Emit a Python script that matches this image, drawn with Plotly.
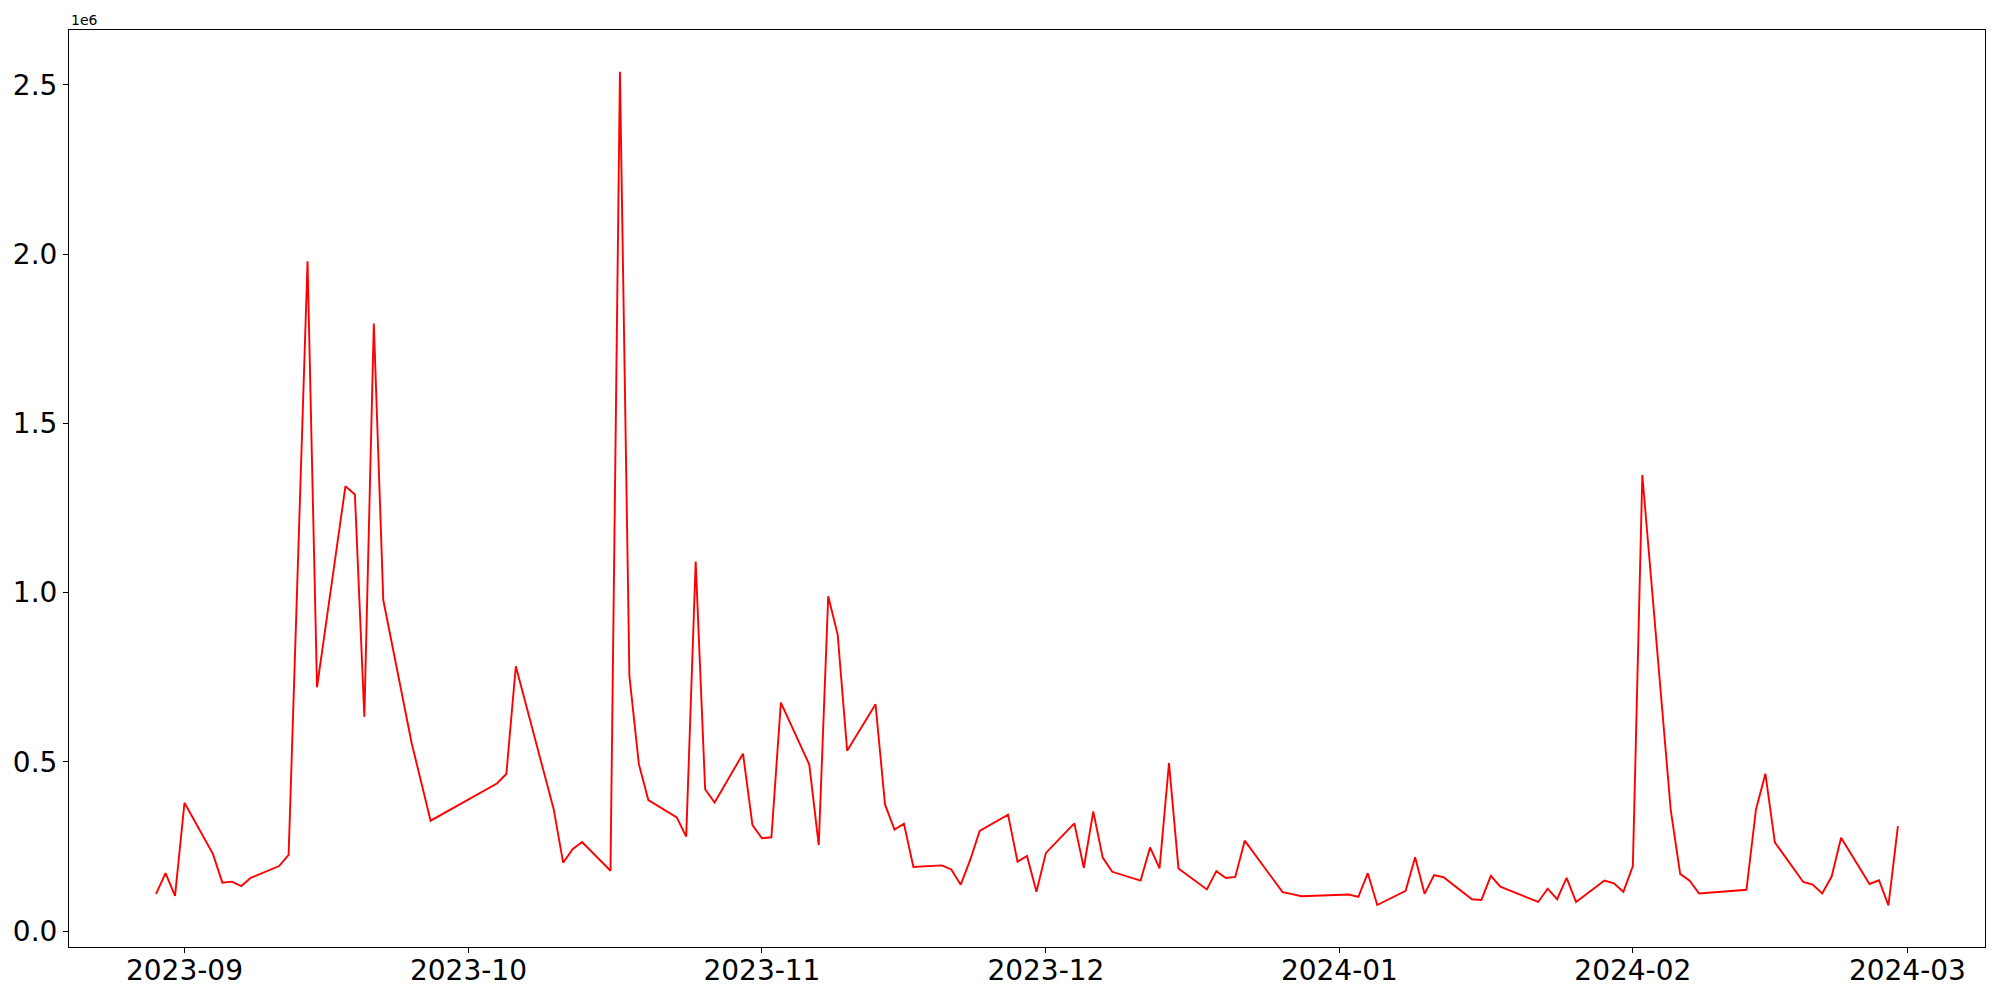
import plotly.graph_objects as go
import pandas as pd

dates = [
    "2023-08-29", "2023-08-30", "2023-08-31", "2023-09-01",
    "2023-09-04", "2023-09-05", "2023-09-06", "2023-09-07", "2023-09-08",
    "2023-09-11", "2023-09-12", "2023-09-13", "2023-09-14", "2023-09-15",
    "2023-09-18", "2023-09-19", "2023-09-20", "2023-09-21", "2023-09-22",
    "2023-09-25", "2023-09-26", "2023-09-27",
    "2023-10-04", "2023-10-05", "2023-10-06",
    "2023-10-10", "2023-10-11", "2023-10-12", "2023-10-13",
    "2023-10-16", "2023-10-17", "2023-10-18", "2023-10-19", "2023-10-20",
    "2023-10-23", "2023-10-24", "2023-10-25", "2023-10-26", "2023-10-27",
    "2023-10-30", "2023-10-31", "2023-11-01", "2023-11-02", "2023-11-03",
    "2023-11-06", "2023-11-07", "2023-11-08", "2023-11-09", "2023-11-10",
    "2023-11-13", "2023-11-14", "2023-11-15", "2023-11-16", "2023-11-17",
    "2023-11-20", "2023-11-21", "2023-11-22", "2023-11-23", "2023-11-24",
    "2023-11-27", "2023-11-28", "2023-11-29", "2023-11-30", "2023-12-01",
    "2023-12-04", "2023-12-05", "2023-12-06", "2023-12-07", "2023-12-08",
    "2023-12-11", "2023-12-12", "2023-12-13", "2023-12-14", "2023-12-15",
    "2023-12-18", "2023-12-19", "2023-12-20", "2023-12-21", "2023-12-22",
    "2023-12-26", "2023-12-27", "2023-12-28",
    "2024-01-02", "2024-01-03", "2024-01-04", "2024-01-05",
    "2024-01-08", "2024-01-09", "2024-01-10", "2024-01-11", "2024-01-12",
    "2024-01-15", "2024-01-16", "2024-01-17", "2024-01-18", "2024-01-19",
    "2024-01-22", "2024-01-23", "2024-01-24", "2024-01-25", "2024-01-26",
    "2024-01-29", "2024-01-30", "2024-01-31", "2024-02-01", "2024-02-02",
    "2024-02-05", "2024-02-06", "2024-02-07", "2024-02-08",
    "2024-02-13", "2024-02-14", "2024-02-15", "2024-02-16",
    "2024-02-19", "2024-02-20", "2024-02-21", "2024-02-22", "2024-02-23",
    "2024-02-26", "2024-02-27", "2024-02-28", "2024-02-29",
]

volume = [
    110000, 171000, 104000, 379000,
    228000, 143000, 146000, 133000, 157000,
    192000, 225000, 1100000, 1979000, 720000,
    1314000, 1290000, 633000, 1795000, 978000,
    555000, 441000, 326000,
    436000, 464000, 782000,
    360000, 202000, 242000, 263000,
    178000, 2539000, 753000, 493000, 387000,
    336000, 279000, 1092000, 419000, 380000,
    524000, 313000, 274000, 277000, 675000,
    492000, 254000, 989000, 876000, 533000,
    670000, 374000, 300000, 317000, 189000,
    194000, 182000, 137000, 210000, 296000,
    344000, 205000, 222000, 116000, 231000,
    318000, 187000, 353000, 217000, 175000,
    149000, 247000, 185000, 496000, 185000,
    123000, 177000, 157000, 160000, 267000,
    115000, 109000, 103000,
    108000, 101000, 171000, 77000,
    119000, 218000, 110000, 165000, 159000,
    94000, 92000, 163000, 131000, 120000,
    86000, 125000, 94000, 157000, 86000,
    149000, 141000, 116000, 192000, 1347000,
    358000, 169000, 149000, 111000,
    122000, 358000, 465000, 262000,
    145000, 137000, 111000, 161000, 276000,
    139000, 150000, 76000, 310000,
]

x_ticks = ["2023-09-01", "2023-10-01", "2023-11-01", "2023-12-01",
           "2024-01-01", "2024-02-01", "2024-03-01"]
x_tick_labels = ["2023-09", "2023-10", "2023-11", "2023-12",
                 "2024-01", "2024-02", "2024-03"]
y_ticks = [0, 500000, 1000000, 1500000, 2000000, 2500000]
y_tick_labels = ["0.0", "0.5", "1.0", "1.5", "2.0", "2.5"]
offset_label = "1e6"

d = pd.to_datetime(dates)
span = d.max() - d.min()
x_range = [d.min() - span * 0.05, d.max() + span * 0.05]
vmin, vmax = min(volume), max(volume)
y_range = [vmin - 0.05 * (vmax - vmin), vmax + 0.05 * (vmax - vmin)]

fig = go.Figure()
fig.add_trace(go.Scatter(
    x=dates, y=volume, mode="lines",
    line=dict(color="#ff0000", width=1.9),
    showlegend=False,
))

axis_common = dict(
    showline=True, linecolor="black", linewidth=1.1, mirror=True,
    showgrid=False, zeroline=False,
    ticks="outside", ticklen=5, tickwidth=1.1, tickcolor="black",
    tickfont=dict(family="DejaVu Sans", size=28, color="black"),
)

fig.update_xaxes(range=x_range, tickvals=x_ticks, ticktext=x_tick_labels,
                 ticklabelstandoff=-7, **axis_common)
fig.update_yaxes(range=y_range, tickvals=y_ticks, ticktext=y_tick_labels,
                 **axis_common)

fig.add_annotation(text=offset_label, xref="paper", yref="paper",
                   x=0, y=1, xanchor="left", yanchor="bottom",
                   showarrow=False, yshift=0,
                   font=dict(family="DejaVu Sans", size=14, color="black"))

fig.update_layout(
    width=2000, height=1000,
    margin=dict(l=69, r=15, t=30, b=53, autoexpand=False),
    paper_bgcolor="white", plot_bgcolor="white",
)

fig.write_html(
    "out.html",
    config={"displayModeBar": False},
    post_script="document.body.style.margin='0';document.body.style.overflow='hidden';",
)
